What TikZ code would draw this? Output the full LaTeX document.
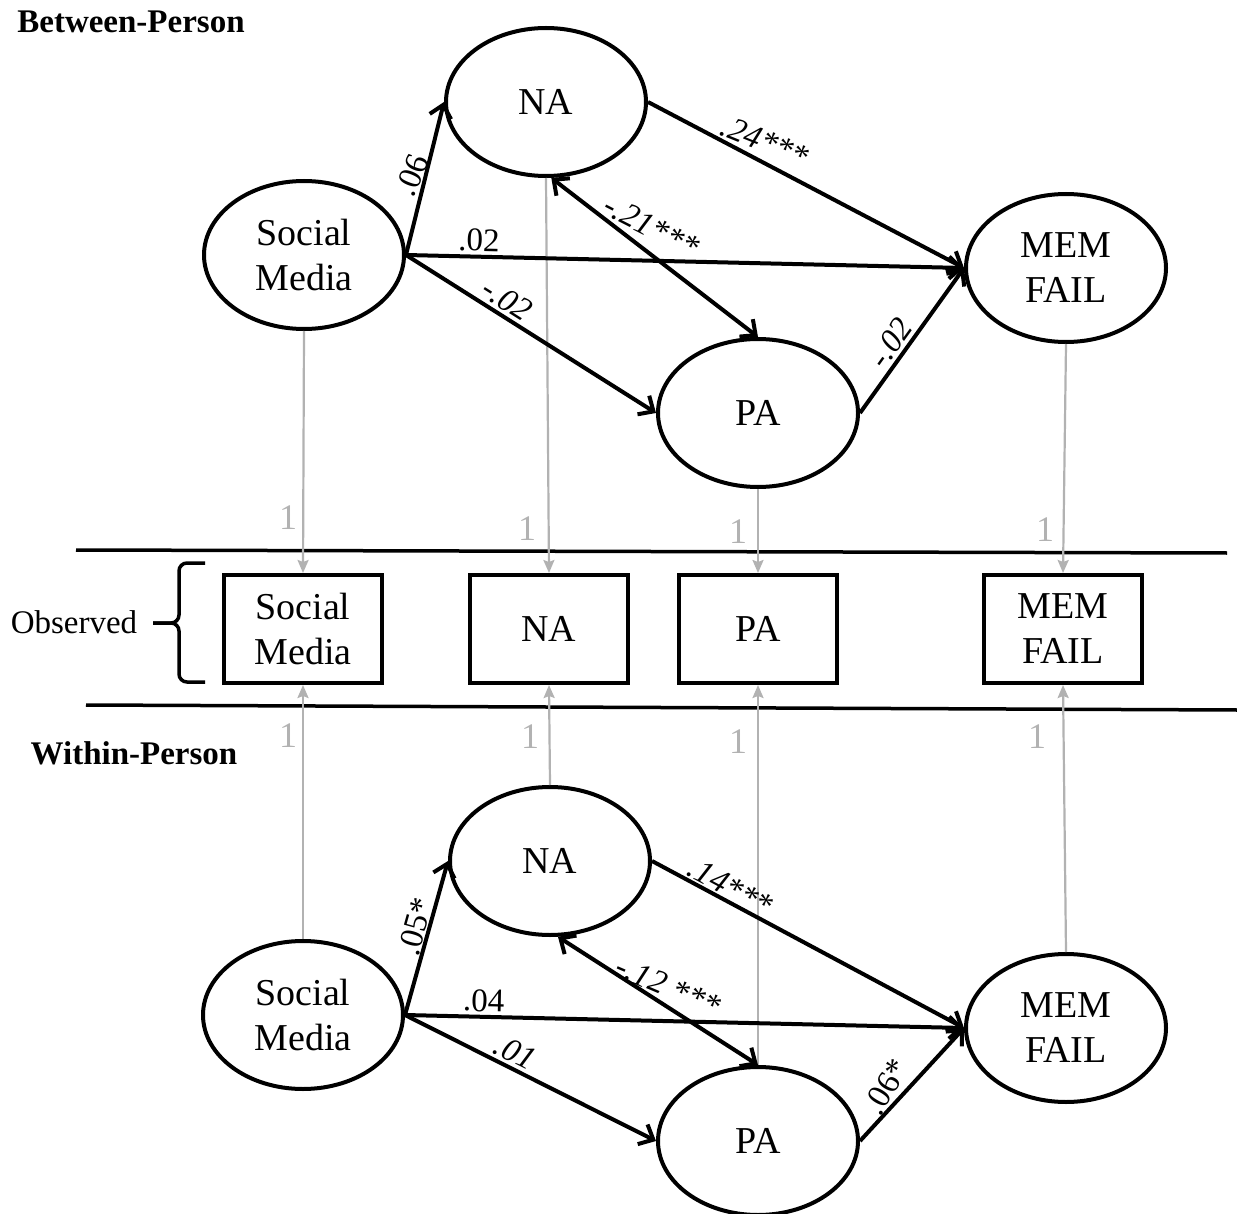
\documentclass[tikz,border=0pt]{standalone}
\usepackage{fontspec}
\setmainfont{Liberation Serif}
\usetikzlibrary{arrows.meta,shapes.geometric}
\definecolor{grayc}{RGB}{178,178,178}
\begin{document}
\begin{tikzpicture}[x=1pt,y=-1pt,
  lat/.style={ellipse, draw, line width=4pt, minimum width=200pt, minimum height=148pt, inner sep=0pt, align=center, font=\fontsize{38}{45}\selectfont},
  obs/.style={rectangle, draw, line width=4pt, minimum width=158pt, minimum height=108pt, inner sep=0pt, align=center, font=\fontsize{38}{45}\selectfont},
  arr/.style={line width=4pt, -{Straight Barb[length=12pt,width=22pt]}},
  darr/.style={line width=4pt, {Straight Barb[length=12pt,width=22pt]}-{Straight Barb[length=12pt,width=22pt]}},
  gryarr/.style={draw=grayc, line width=2.2pt, -{Stealth[length=13pt,width=11pt,inset=2pt]}},
  coef/.style={sloped, above, inner sep=3pt, font=\fontsize{33}{33}\selectfont},
  lab/.style={inner sep=1pt, font=\fontsize{33}{33}\selectfont},
  one/.style={text=grayc, inner sep=0pt, font=\fontsize{36}{36}\selectfont},
  hdr/.style={inner sep=0pt, font=\bfseries\fontsize{33}{33}\selectfont},
  rule/.style={line width=3.5pt}
]
\useasboundingbox (0,0) rectangle (1237,1214);

% headers
\node[hdr] (bp) at (131,22) {Between-Person};
\node[hdr] (wp) at (134,753) {Within-Person};
\node[inner sep=0pt, font=\fontsize{33}{33}\selectfont] (obsl) at (74,622) {Observed};

% top latent
\node[lat] (sm1) at (304,255) {Social\\Media};
\node[lat] (na1) at (546,102) {NA};
\node[lat] (pa1) at (758,413) {PA};
\node[lat] (mf1) at (1066,268) {MEM\\FAIL};

% observed boxes
\node[obs] (bsm) at (303,629) {Social\\Media};
\node[obs] (bna) at (549,629) {NA};
\node[obs] (bpa) at (758,629) {PA};
\node[obs] (bmf) at (1063,629) {MEM\\FAIL};

% bottom latent
\node[lat] (sm2) at (303,1015) {Social\\Media};
\node[lat] (na2) at (550,861) {NA};
\node[lat] (pa2) at (758,1141) {PA};
\node[lat] (mf2) at (1066,1028) {MEM\\FAIL};

% separator rules
\coordinate (r1a) at (76,550);
\coordinate (r1b) at (1227,553);
\coordinate (r2a) at (86,705);
\coordinate (r2b) at (1237,710);
\draw[rule] (r1a) -- (r1b);
\draw[rule] (r2a) -- (r2b);

% brace
\draw[line width=3.5pt, rounded corners=8pt] (205,563) -- (179,563) -- (179,623) -- (153,623);
\draw[line width=3.5pt, rounded corners=8pt] (205,682) -- (179,682) -- (179,623) -- (153,623);

% gray loadings
\draw[gryarr] (sm1.south) -- (bsm.north);
\draw[gryarr] (na1.south) -- (bna.north);
\draw[gryarr] (pa1.south) -- (bpa.north);
\draw[gryarr] (mf1.south) -- (bmf.north);
\draw[gryarr] (sm2.north) -- (bsm.south);
\draw[gryarr] (na2.north) -- (bna.south);
\draw[gryarr] (pa2.north) -- (bpa.south);
\draw[gryarr] (mf2.north) -- (bmf.south);

\node[one] (l1) at (288,518) {1};
\node[one] (l2) at (527,529) {1};
\node[one] (l3) at (738,532) {1};
\node[one] (l4) at (1045,530) {1};
\node[one] (l5) at (288,736) {1};
\node[one] (l6) at (530,737) {1};
\node[one] (l7) at (738,742) {1};
\node[one] (l8) at (1037,737) {1};

% top structural paths
\draw[arr] (sm1.east) -- node[lab, pos=0.52, xshift=-14pt, rotate=68] {.06} (na1.west);
\draw[arr] (sm1.east) -- node[coef, pos=0.13] {.02} (mf1.west);
\draw[arr] (sm1.east) -- node[coef, pos=0.37] {\itshape -.02} (pa1.west);
\draw[arr] (na1.east) -- node[lab, pos=0.37, yshift=22pt, rotate=-22] {\itshape .24***} (mf1.west);
\draw[darr] (na1.-86) -- node[lab, pos=0.45, xshift=7pt, yshift=23pt, rotate=-27] {\itshape -.21***} (pa1.north);
\draw[arr] (pa1.east) -- node[coef, pos=0.42] {\itshape -.02} (mf1.west);

% bottom structural paths
\draw[arr] (sm2.east) -- node[coef, pos=0.55, inner sep=0.5pt] {.05*} (na2.west);
\draw[arr] (sm2.east) -- node[coef, pos=0.14] {.04} (mf2.west);
\draw[arr] (sm2.east) -- node[coef, pos=0.41] {\itshape .01} (pa2.west);
\draw[arr] (na2.east) -- node[coef, pos=0.23, inner sep=1pt] {\itshape .14***} (mf2.west);
\draw[darr] (na2.-84) -- node[lab, pos=0.55, yshift=21pt, rotate=-23] {\itshape -.12 ***} (pa2.north);
\draw[arr] (pa2.east) -- node[lab, pos=0.25, yshift=26pt, rotate=59] {.06*} (mf2.west);
\end{tikzpicture}
\end{document}
